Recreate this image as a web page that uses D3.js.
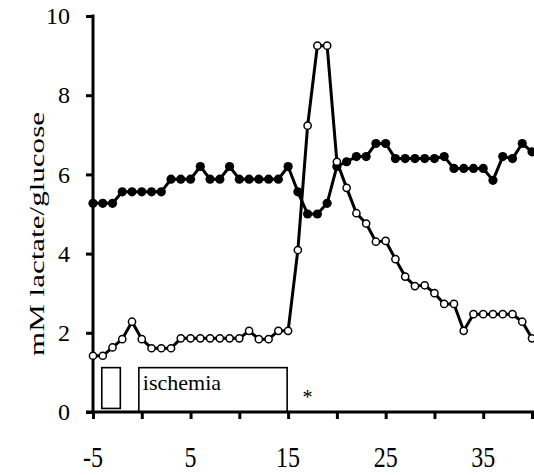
<!DOCTYPE html>
<html><head><meta charset="utf-8">
<script src="https://cdn.jsdelivr.net/npm/d3@7"></script>
<style>
html,body{margin:0;padding:0;background:#fff;}
svg{display:block;}
</style></head>
<body>
<svg id="chart" width="534" height="475"></svg>
<script>
// ---- data ----
const minutes = [-5,-4,-3,-2,-1,0,1,2,3,4,5,6,7,8,9,10,11,12,13,14,15,16,17,18,19,20,21,22,23,24,25,26,27,28,29,30,31,32,33,34,35,36,37,38,39,40];
const filledSeries = [5.27,5.27,5.27,5.56,5.56,5.56,5.56,5.56,5.88,5.88,5.88,6.2,5.88,5.88,6.2,5.88,5.88,5.88,5.88,5.88,6.2,5.56,5.0,5.0,5.27,6.2,6.32,6.45,6.45,6.78,6.78,6.4,6.4,6.4,6.4,6.4,6.45,6.15,6.15,6.15,6.15,5.85,6.45,6.4,6.78,6.57];
const openSeries = [1.42,1.42,1.63,1.84,2.28,1.84,1.61,1.61,1.61,1.86,1.86,1.86,1.86,1.86,1.86,1.86,2.05,1.84,1.84,2.05,2.05,4.09,7.23,9.25,9.25,6.32,5.66,5.02,4.76,4.3,4.32,3.86,3.42,3.18,3.2,3.0,2.73,2.73,2.05,2.47,2.47,2.47,2.47,2.47,2.28,1.86];
const xTickValues = [-5,0,5,10,15,20,25,30,35,40];
const xTickLabels = [-5,5,15,25,35];
const yTickValues = [0,2,4,6,8,10];
const yTitle = "mM lactate/glucose";
const boxes = [{x0:-4.1,x1:-2.2,y0:0.09,y1:1.12,label:""},{x0:-0.3,x1:14.9,y0:0,y1:1.12,label:"ischemia"}];
const marker = {x:17.0,y:0.2,text:"*"};

const FONT = "Liberation Serif";

// ---- scales ----
const x = d3.scaleLinear().domain([-5,40]).range([93,532]);
const y = d3.scaleLinear().domain([0,10]).range([412,16]);
const svg = d3.select("#chart");

// boxes
boxes.forEach(b=>{
  svg.append("rect").attr("x",x(b.x0)).attr("y",y(b.y1))
    .attr("width",x(b.x1)-x(b.x0)).attr("height",y(b.y0)-y(b.y1))
    .attr("fill","none").attr("stroke","#000").attr("stroke-width",1.6);
  if(b.label){
    svg.append("text").attr("x",x(b.x0)+4).attr("y",y(b.y1)+22)
      .style("font-family",FONT).style("font-size","22px").text(b.label);
  }
});
svg.append("text").attr("x",x(marker.x)).attr("y",y(marker.y)).attr("text-anchor","middle")
  .style("font-family",FONT).style("font-size","20px").text(marker.text);

// axes
const yAxis = d3.axisLeft(y).tickValues(yTickValues).tickSize(7).tickPadding(16);
const gy = svg.append("g").attr("transform",`translate(${x(-5)},0)`).call(yAxis);
gy.attr("font-family",null).attr("font-size",null);
gy.select(".domain").remove();
gy.selectAll(".tick line").attr("stroke","#000").attr("stroke-width",3);
gy.selectAll(".tick text").style("font-family",FONT).style("font-size","24px").attr("fill","#000");
svg.append("line").attr("x1",x(-5)).attr("x2",x(-5)).attr("y1",y(10)-1.5).attr("y2",y(0)).attr("stroke","#000").attr("stroke-width",3);

const xAxis = d3.axisBottom(x).tickValues(xTickValues).tickSize(7).tickFormat(()=>"");
const gx = svg.append("g").attr("transform",`translate(0,${y(0)})`).call(xAxis);
gx.select(".domain").remove();
gx.selectAll(".tick line").attr("stroke","#000").attr("stroke-width",3);
svg.append("line").attr("x1",86).attr("x2",534).attr("y1",y(0)).attr("y2",y(0)).attr("stroke","#000").attr("stroke-width",3);
svg.selectAll(".xlab").data(xTickLabels).enter().append("text").attr("class","xlab")
  .attr("transform",d=>`translate(${x(d)},467) scale(1,1.2)`).attr("text-anchor","middle")
  .style("font-family",FONT).style("font-size","24px").text(d=>d);

svg.append("text").attr("transform",`translate(44,${(y(0)+y(10))/2+20}) rotate(-90)`)
  .attr("text-anchor","middle").attr("textLength",244).attr("lengthAdjust","spacingAndGlyphs")
  .style("font-family",FONT).style("font-size","22px").text(yTitle);

// series
const line = d3.line().x(d=>x(d[0])).y(d=>y(d[1]));
const fData = minutes.map((m,i)=>[m,filledSeries[i]]);
const oData = minutes.map((m,i)=>[m,openSeries[i]]);
svg.append("path").datum(fData).attr("d",line).attr("fill","none").attr("stroke","#000").attr("stroke-width",3).attr("stroke-linejoin","round");
svg.selectAll(".fpt").data(fData).enter().append("circle").attr("class","fpt")
  .attr("cx",d=>x(d[0])).attr("cy",d=>y(d[1])).attr("r",4.6).attr("fill","#000");
svg.append("path").datum(oData).attr("d",line).attr("fill","none").attr("stroke","#000").attr("stroke-width",3).attr("stroke-linejoin","round");
svg.selectAll(".opt").data(oData).enter().append("circle").attr("class","opt")
  .attr("cx",d=>x(d[0])).attr("cy",d=>y(d[1])).attr("r",3.6).attr("fill","#fff").attr("stroke","#000").attr("stroke-width",1.5);
</script>
</body></html>
